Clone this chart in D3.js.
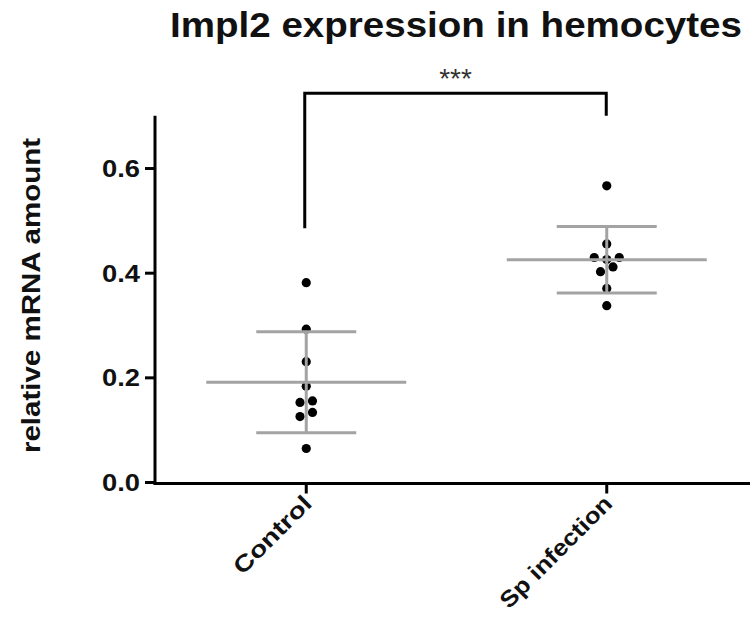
<!DOCTYPE html>
<html>
<head>
<meta charset="utf-8">
<script src="https://cdn.jsdelivr.net/npm/d3@7"></script>
<style>
  body { margin: 0; background: #fff; }
  text { font-family: "Liberation Sans", Arial, sans-serif; }
</style>
</head>
<body>
<svg id="chart" width="750" height="619"></svg>
<script>
// Data
const categories = ['Control', 'Sp infection'];
const controlValues = [0.381, 0.292, 0.230, 0.183, 0.155, 0.152, 0.133, 0.125, 0.064];
const spValues = [0.566, 0.455, 0.429, 0.429, 0.425, 0.411, 0.402, 0.370, 0.337];
const yTicks = [0, 0.2, 0.4, 0.6];
const significance = '***';
// bracket: left foot, top bar, right foot (in y units)
const bracketLevels = [0.485, 0.743, 0.70];

const svg = d3.select('#chart');
const groups = [controlValues, spValues];

const y = d3.scaleLinear().domain([0, 0.7]).range([482, 115.7]);
const x = d3.scaleBand().domain(categories).range([156, 757]).padding(0);
const cx = c => x(c) + x.bandwidth() / 2;

// spread points that sit at nearly the same height into rows
function dodge(values, spacing, thresh) {
    const order = d3.range(values.length).sort((a, b) => values[b] - values[a]);
    const offs = new Array(values.length).fill(0);
    let row = [];
    const flush = () => {
        const n = row.length;
        const slots = d3.range(n).map(i => i - (n - 1) / 2)
            .sort((a, b) => Math.abs(b) - Math.abs(a) || b - a);
        row.forEach((idx, i) => offs[idx] = slots[i] * spacing);
        row = [];
    };
    order.forEach(idx => {
        if (row.length && y(values[idx]) - y(values[row[0]]) > thresh) flush();
        row.push(idx);
    });
    flush();
    return offs;
}

// y axis
const yAxis = svg.append('g')
    .attr('transform', 'translate(155,0)')
    .call(d3.axisLeft(y).tickValues(yTicks).tickFormat(d3.format('.1f')).tickSize(10).tickPadding(5));
yAxis.select('.domain').attr('d', `M0,${y(0.7)}V${y(0) + 2.5}`);
yAxis.selectAll('path, line').attr('stroke', '#000').attr('stroke-width', 3);
yAxis.selectAll('text')
    .attr('font-size', 24).attr('font-weight', 'bold').attr('fill', '#111')
    .attr('font-family', '"Liberation Sans", Arial, sans-serif')
    .attr('textLength', 38).attr('lengthAdjust', 'spacingAndGlyphs')
    .attr('dy', '0.36em');

// x axis
const xAxis = svg.append('g')
    .attr('transform', 'translate(0,483.5)')
    .call(d3.axisBottom(x).tickSize(10).tickFormat(''));
xAxis.select('.domain').attr('d', 'M153.5,0H760');
xAxis.selectAll('path, line').attr('stroke', '#000').attr('stroke-width', 3);
xAxis.selectAll('.tick line').attr('y1', 0);

const xLabelLen = { 'Control': 100, 'Sp infection': 148 };
svg.append('g').selectAll('text')
    .data(categories)
    .join('text')
    .attr('transform', d => `translate(${cx(d) + 7},${505}) rotate(-45)`)
    .attr('text-anchor', 'end')
    .attr('font-size', 23).attr('font-weight', 'bold').attr('fill', '#111')
    .attr('textLength', d => xLabelLen[d]).attr('lengthAdjust', 'spacingAndGlyphs')
    .text(d => d);

// y label
svg.append('text')
    .attr('transform', `translate(40,${(138 + 453) / 2}) rotate(-90)`)
    .attr('text-anchor', 'middle')
    .attr('font-size', 26).attr('font-weight', 'bold').attr('fill', '#111')
    .attr('textLength', 315).attr('lengthAdjust', 'spacingAndGlyphs')
    .text('relative mRNA amount');

// title
svg.append('text')
    .attr('x', 456).attr('y', 37)
    .attr('text-anchor', 'middle')
    .attr('font-size', 35).attr('font-weight', 'bold').attr('fill', '#111')
    .attr('textLength', 572).attr('lengthAdjust', 'spacingAndGlyphs')
    .text('Impl2 expression in hemocytes');

// dots
groups.forEach((vals, gi) => {
    const c = cx(categories[gi]);
    const offs = dodge(vals, 12.5, 6);
    svg.append('g').selectAll('circle')
        .data(vals)
        .join('circle')
        .attr('cx', (d, i) => c + offs[i])
        .attr('cy', d => y(d))
        .attr('r', 4.6)
        .attr('fill', '#000');
});

// mean and SD bars drawn on top
groups.forEach((vals, gi) => {
    const c = cx(categories[gi]);
    const m = d3.mean(vals), sd = d3.deviation(vals);
    const g = svg.append('g').attr('stroke', '#a3a3a3').attr('stroke-width', 3).attr('fill', 'none');
    g.append('line').attr('x1', c).attr('x2', c).attr('y1', y(m - sd)).attr('y2', y(m + sd));
    g.append('line').attr('x1', c - 50).attr('x2', c + 50).attr('y1', y(m + sd)).attr('y2', y(m + sd));
    g.append('line').attr('x1', c - 50).attr('x2', c + 50).attr('y1', y(m - sd)).attr('y2', y(m - sd));
    g.append('line').attr('x1', c - 100).attr('x2', c + 100).attr('y1', y(m)).attr('y2', y(m));
});

// significance bracket
const bx0 = cx(categories[0]) - 1.5, bx1 = cx(categories[1]) - 0.5;
svg.append('path')
    .attr('d', `M${bx0},${y(bracketLevels[0])}V${y(bracketLevels[1])}H${bx1}V${y(bracketLevels[2])}`)
    .attr('fill', 'none').attr('stroke', '#000').attr('stroke-width', 3);
svg.append('text')
    .attr('x', (bx0 + bx1) / 2).attr('y', 88)
    .attr('text-anchor', 'middle')
    .attr('font-size', 28).attr('fill', '#333')
    .text(significance);
</script>
</body>
</html>
